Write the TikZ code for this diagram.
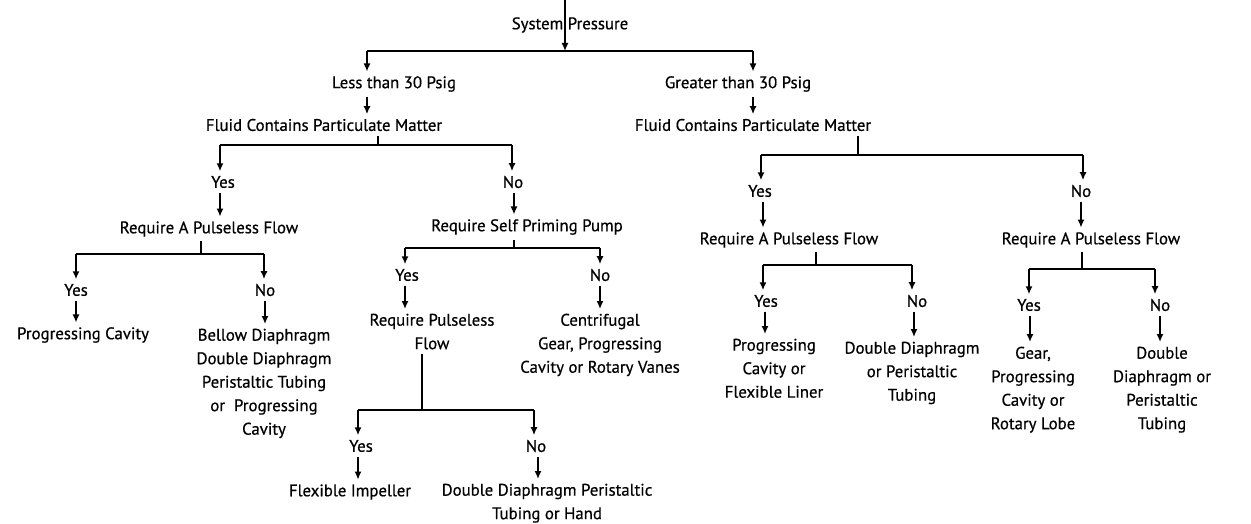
\documentclass[tikz,border=0pt]{standalone}
\usepackage{fontspec}
\setmainfont[FakeBold=0.6]{PT Sans}
\usetikzlibrary{arrows.meta}
\newcommand{\chartfont}{\fontsize{16.8}{23.5}\selectfont}
% parent, stub x, bar y, left x, right x, left child, right child
\newcommand{\forkdown}[7]{
	\draw (#1.south -| #2,0) -- (#2,#3);
	\draw (#4,#3) -- (#5,#3);
	\draw[arr] (#4,#3) -- (#6.north -| #4,0);
	\draw[arr] (#5,#3) -- (#7.north -| #5,0);
}
% from, to, x
\newcommand{\dropto}[3]{
	\draw[arr] (#1.south -| #3,0) -- (#2.north -| #3,0);
}

\begin{document}
\begin{tikzpicture}[x=1pt,y=-1pt,line width=1.5pt,
	arr/.style={-{Latex[length=8pt,width=7pt]}},
	lbl/.style={align=center,inner xsep=1pt,inner ysep=4pt,font=\chartfont},
	multi/.style={lbl,anchor=north}]
	\useasboundingbox (0,0) rectangle (1251,524);
	\coordinate (top) at (565,0);
	\coordinate (hub) at (565,51);

	\node[lbl] (sp) at (570,25) {System Pressure};
	\node[lbl] (lt30) at (394,84) {Less than 30 Psig};
	\node[lbl] (gt30) at (738,84) {Greater than 30 Psig};
	\node[lbl] (fcL) at (324,125) {Fluid Contains Particulate Matter};
	\node[lbl] (fcR) at (753,125) {Fluid Contains Particulate Matter};

	% less than 30
	\node[lbl] (yesL) at (223,182) {Yes};
	\node[lbl] (noL) at (513,182) {No};
	\node[lbl] (pfL) at (209,229) {Require A Pulseless Flow};
	\node[lbl] (spp) at (527,227) {Require Self Priming Pump};
	\node[lbl] (yesLL) at (76,290) {Yes};
	\node[lbl] (noLL) at (265,290) {No};
	\node[lbl] (pc) at (83,335) {Progressing Cavity};
	\node[multi] (bellow) at (264,324) {Bellow Diaphragm\\Double Diaphragm\\Peristaltic Tubing\\or~ Progressing\\Cavity};
	\node[lbl] (yesLR) at (407,275) {Yes};
	\node[lbl] (noLR) at (600,275) {No};
	\node[multi] (rpf) at (432,309) {Require Pulseless\\Flow};
	\node[multi] (cent) at (600,309) {Centrifugal\\Gear, Progressing\\Cavity or Rotary Vanes};
	\node[lbl] (yesF) at (361,446) {Yes};
	\node[lbl] (noF) at (536,446) {No};
	\node[lbl] (fi) at (350,492) {Flexible Impeller};
	\node[multi] (ddh) at (547,479) {Double Diaphragm Peristaltic\\Tubing or Hand};

	% greater than 30
	\node[lbl] (yesR) at (760,191) {Yes};
	\node[lbl] (noR) at (1081,191) {No};
	\node[lbl] (pfR1) at (789,240) {Require A Pulseless Flow};
	\node[lbl] (pfR2) at (1091,240) {Require A Pulseless Flow};
	\node[lbl] (yesR1) at (766,301) {Yes};
	\node[lbl] (noR1) at (917,301) {No};
	\node[lbl] (yesR2) at (1029,305) {Yes};
	\node[lbl] (noR2) at (1160,305) {No};
	\node[multi] (pcfl) at (774,334) {Progressing\\Cavity or\\Flexible Liner};
	\node[multi] (ddpt) at (912,337) {Double Diaphragm\\or Peristaltic\\Tubing};
	\node[multi] (gear) at (1033,342) {Gear,\\Progressing\\Cavity or\\Rotary Lobe};
	\node[multi] (ddpt2) at (1162,342) {Double\\Diaphragm or\\Peristaltic\\Tubing};

	\draw[arr] (top) -- (hub);
	\draw (367,51) -- (753,51);
	\draw[arr] (367,51) -- (lt30.north -| 367,0);
	\draw[arr] (753,51) -- (gt30.north -| 753,0);
	\dropto{lt30}{fcL}{367}
	\dropto{gt30}{fcR}{753}

	\forkdown{fcL}{378}{145}{220}{512}{yesL}{noL}
	\dropto{yesL}{pfL}{220}
	\dropto{noL}{spp}{514}
	\forkdown{pfL}{201}{254}{76}{264}{yesLL}{noLL}
	\dropto{yesLL}{pc}{76}
	\dropto{noLL}{bellow}{265}
	\forkdown{spp}{514}{248}{405}{600}{yesLR}{noLR}
	\dropto{yesLR}{rpf}{405}
	\dropto{noLR}{cent}{600}
	\forkdown{rpf}{422}{410}{358}{534}{yesF}{noF}
	\dropto{yesF}{fi}{358}
	\dropto{noF}{ddh}{538}

	\forkdown{fcR}{858}{155}{761}{1083}{yesR}{noR}
	\dropto{yesR}{pfR1}{763}
	\dropto{noR}{pfR2}{1081}
	\forkdown{pfR1}{816}{265}{763}{912}{yesR1}{noR1}
	\dropto{yesR1}{pcfl}{765}
	\dropto{noR1}{ddpt}{914}
	\forkdown{pfR2}{1082}{269}{1029}{1155}{yesR2}{noR2}
	\dropto{yesR2}{gear}{1030}
	\dropto{noR2}{ddpt2}{1160}
\end{tikzpicture}
\end{document}
